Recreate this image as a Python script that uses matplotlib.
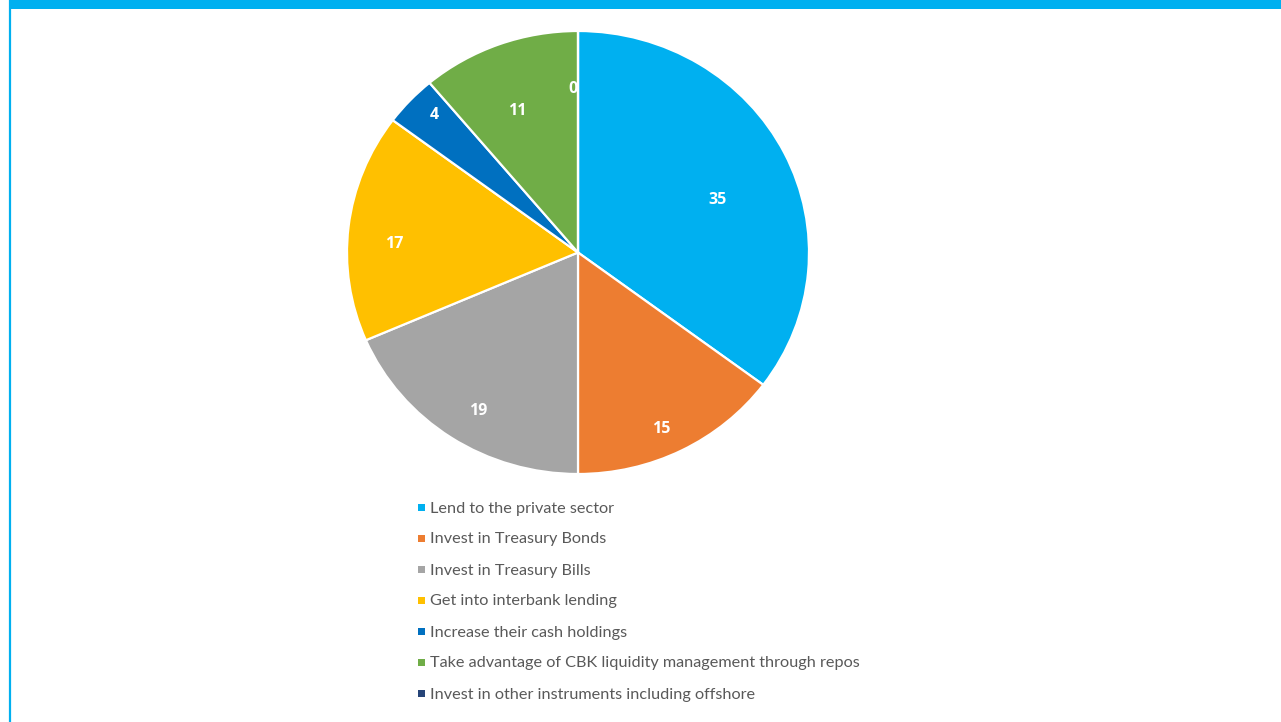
import matplotlib
matplotlib.use("Agg")
import matplotlib.pyplot as plt
from matplotlib.patches import Rectangle
import numpy as np

# Share of responses (%) on how banks would use excess liquidity
categories = [
    "Lend to the private sector",
    "Invest in Treasury Bonds",
    "Invest in Treasury Bills",
    "Get into interbank lending",
    "Increase their cash holdings",
    "Take advantage of CBK liquidity management through repos",
    "Invest in other instruments including offshore",
]
values = [35.19, 14.81, 18.52, 16.67, 3.70, 11.11, 0.0]
colors = ["#00B0F0", "#ED7D31", "#A5A5A5", "#FFC000", "#0070C0", "#70AD47", "#264478"]

# label placement: radial fraction and angular nudge (degrees, clockwise)
label_dist = [0.65, 0.875, 0.835, 0.795, 0.88, 0.69, 0.74]
label_nudge = [5.4, 2.3, -2.3, -3.8, 1.5, -2.4, 0.0]

W, H = 1281, 722
fig = plt.figure(figsize=(W / 100, H / 100), dpi=100)
fig.patch.set_facecolor("white")

# full-figure canvas in pixel coordinates for frame and legend
bg = fig.add_axes([0, 0, 1, 1])
bg.set_xlim(0, W)
bg.set_ylim(H, 0)
bg.axis("off")
bg.add_patch(Rectangle((9, 0), W - 9, 9, facecolor="#00B0F0", edgecolor="none"))
bg.plot([10, 10], [0, H], color="#00B0F0", lw=1.6, solid_capstyle="butt")

# pie area (slightly wider than tall)
cx, cy, rx, ry = 578, 252.5, 231, 221.5
pax = fig.add_axes([(cx - rx) / W, 1 - (cy + ry) / H, 2 * rx / W, 2 * ry / H])
wedges, _ = pax.pie(values, colors=colors, startangle=90, counterclock=False,
                    radius=1.0, wedgeprops=dict(edgecolor="white", linewidth=1.6))
pax.set_aspect("auto")
pax.set_xlim(-1, 1)
pax.set_ylim(-1, 1)
pax.axis("off")

for w, v, d, nd in zip(wedges, values, label_dist, label_nudge):
    th = np.deg2rad((w.theta1 + w.theta2) / 2 - nd)
    x, y = d * np.cos(th), d * np.sin(th)
    txt = f"{v:.0f}"
    if v == 0:
        pax.text(x - 0.003, y, txt, ha="right", va="center", color="white",
                 fontsize=11.5, fontweight="bold", family="Open Sans", zorder=5)
    else:
        pax.text(x, y, txt, ha="center", va="center", color="white",
                 fontsize=11.5, fontweight="bold", family="Open Sans", zorder=5)

# legend
y0, dy = 508.5, 31
for i, (lab, col) in enumerate(zip(categories, colors)):
    yy = y0 + i * dy
    bg.add_patch(Rectangle((418, yy - 5), 7, 7, facecolor=col, edgecolor="none"))
    bg.text(430, yy, lab, ha="left", va="center", color="#595959",
            fontsize=11.7, family="Lato")

fig.savefig("out.png", dpi=100, facecolor="white")
